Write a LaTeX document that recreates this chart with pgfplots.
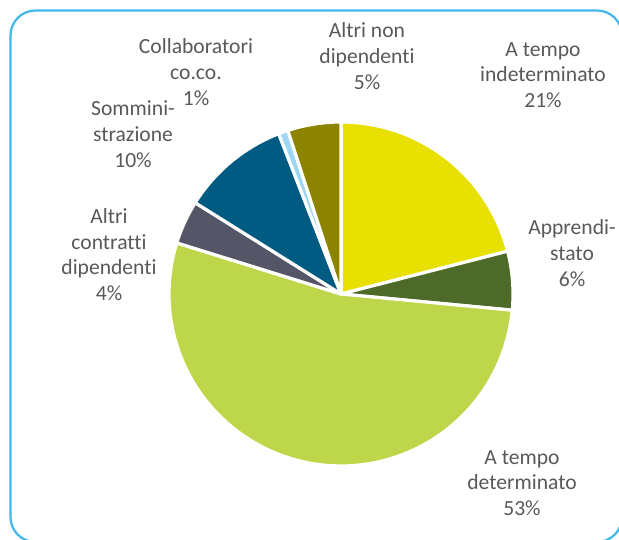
\documentclass[border=0pt]{standalone}
\usepackage{pgfplots}
\pgfplotsset{compat=1.18}
\usepackage{fontspec}
\setmainfont{Carlito}[Ligatures=NoCommon]
\definecolor{cIndet}{RGB}{232,224,0}
\definecolor{cAppr}{RGB}{78,106,40}
\definecolor{cDet}{RGB}{190,214,74}
\definecolor{cAltri}{RGB}{85,85,104}
\definecolor{cSomm}{RGB}{0,91,130}
\definecolor{cColl}{RGB}{157,215,243}
\definecolor{cNonDip}{RGB}{140,132,0}
\definecolor{cBorder}{RGB}{65,184,236}
\definecolor{txt}{RGB}{89,89,89}
% pie centre and radius (axis units = pixels)
\def\cx{341}\def\cy{245}\def\rr{172}
\gdef\cum{0}
\newcommand\slice[2]{% #1 colour, #2 percentage
  \pgfmathsetmacro\aEnd{90-3.6*\cum}%
  \pgfmathsetmacro\newcum{\cum+#2}%
  \pgfmathsetmacro\aStart{90-3.6*\newcum}%
  \xdef\cum{\newcum}%
  \edef\doplot{\noexpand\addplot[fill=#1, draw=white, line width=1.6pt, line join=round,
     domain=\aStart:\aEnd, samples=80, variable=\noexpand\t]
     ({\cx+\rr*cos(\noexpand\t)},{\cy+\rr*sin(\noexpand\t)}) -- (axis cs:\cx,\cy) -- cycle;}%
  \doplot}
\begin{document}
\begin{tikzpicture}
\begin{axis}[hide axis, scale only axis, width=309.5pt, height=269.5pt,
  xmin=0, xmax=619, ymin=0, ymax=539, clip=false]
\draw[cBorder, line width=1.1pt, rounded corners=12.5pt] (axis cs:10.5,528.5) rectangle (axis cs:622,-3);
\slice{cIndet}{21.0}
\slice{cAppr}{5.5}
\slice{cDet}{53.3}
\slice{cAltri}{4.1}
\slice{cSomm}{10.2}
\slice{cColl}{0.9}
\slice{cNonDip}{5.0}
\tikzset{lbl/.style={align=center, text=txt, font=\fontsize{10.8}{12.9}\selectfont, inner sep=0pt}}
\node[lbl] at (axis cs:367,483) {Altri non\\dipendenti\\5\%};
\node[lbl] at (axis cs:543,464) {A tempo\\indeterminato\\21\%};
\node[lbl] at (axis cs:572,286) {Apprendi-\\stato\\6\%};
\node[lbl] at (axis cs:522,56) {A tempo\\determinato\\53\%};
\node[lbl] at (axis cs:109,284.5) {Altri\\contratti\\dipendenti\\4\%};
\node[lbl] at (axis cs:133,405) {Sommini-\\strazione\\10\%};
\node[lbl] at (axis cs:196,467) {Collaboratori\\co.co.\\1\%};
\end{axis}
\pgfresetboundingbox
\path[use as bounding box] (0,0) rectangle (309.5pt,269.5pt);
\end{tikzpicture}
\end{document}
